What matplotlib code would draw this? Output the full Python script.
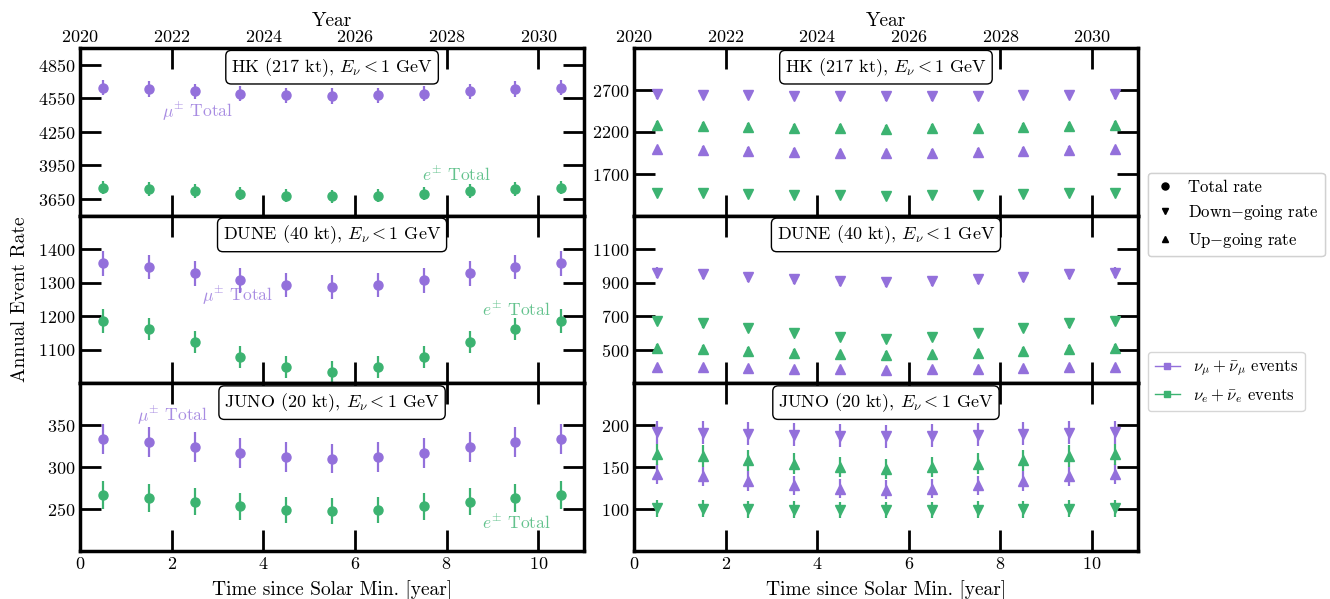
import matplotlib
matplotlib.use("Agg")
import matplotlib.pyplot as plt
from matplotlib.lines import Line2D
import numpy as np

plt.rcParams["font.family"] = "serif"
plt.rcParams["font.serif"] = ["cmr10"]
plt.rcParams["mathtext.fontset"] = "cm"
plt.rcParams["axes.formatter.use_mathtext"] = True

purple = "#9370DB"
green = "#3CB371"

t = [0.5, 1.5, 2.5, 3.5, 4.5, 5.5, 6.5, 7.5, 8.5, 9.5, 10.5]

# HK (217 kt)
hk_mu_total = [4644, 4632, 4612, 4591, 4576, 4570, 4576, 4591, 4612, 4632, 4644]
hk_e_total = [3751, 3739, 3718, 3697, 3679, 3673, 3679, 3697, 3718, 3739, 3751]
hk_mu_down = [2648, 2644, 2637, 2630, 2624, 2621, 2624, 2630, 2637, 2644, 2648]
hk_mu_up = [1989, 1981, 1969, 1957, 1945, 1942, 1945, 1957, 1969, 1981, 1989]
hk_e_down = [1471, 1467, 1458, 1449, 1441, 1438, 1441, 1449, 1458, 1467, 1471]
hk_e_up = [2280, 2272, 2262, 2250, 2240, 2236, 2240, 2250, 2262, 2272, 2280]

# DUNE (40 kt)
dune_mu_total = [1358, 1347, 1328, 1307, 1292, 1286, 1292, 1307, 1328, 1347, 1358]
dune_e_total = [1186, 1162, 1123, 1080, 1048, 1035, 1048, 1080, 1123, 1162, 1186]
dune_mu_down = [960, 951, 936, 921, 908, 906, 908, 921, 936, 951, 960]
dune_mu_up = [398, 396, 392, 386, 384, 380, 384, 386, 392, 396, 398]
dune_e_down = [674, 658, 630, 598, 574, 564, 574, 598, 630, 658, 674]
dune_e_up = [510, 504, 492, 482, 474, 470, 474, 482, 492, 504, 510]

# JUNO (20 kt)
juno_mu_total = [333.7, 330.0, 324.0, 317.4, 312.2, 310.3, 312.2, 317.4, 324.0, 330.0, 333.7]
juno_e_total = [266.7, 263.4, 258.7, 253.2, 249.2, 247.6, 249.2, 253.2, 258.7, 263.4, 266.7]
juno_mu_down = [191.7, 191.0, 190.2, 189.0, 187.8, 187.0, 187.8, 189.0, 190.2, 191.0, 191.7]
juno_mu_up = [142.0, 139.0, 133.8, 128.4, 124.4, 123.3, 124.4, 128.4, 133.8, 139.0, 142.0]
juno_e_down = [101.0, 100.5, 100.0, 99.5, 99.0, 98.8, 99.0, 99.5, 100.0, 100.5, 101.0]
juno_e_up = [165.4, 163.4, 158.3, 154.3, 150.4, 147.6, 150.4, 154.3, 158.3, 163.4, 165.4]

titles = ["HK (217 kt), $E_\\nu < 1$ GeV", "DUNE (40 kt), $E_\\nu < 1$ GeV", "JUNO (20 kt), $E_\\nu < 1$ GeV"]
left_ylims = [(3500, 5000), (1000, 1500), (200, 400)]
left_yticks = [[3650, 3950, 4250, 4550, 4850], [1100, 1200, 1300, 1400], [250, 300, 350]]
right_ylims = [(1200, 3200), (300, 1300), (50, 250)]
right_yticks = [[1700, 2200, 2700], [500, 700, 900, 1100], [100, 150, 200]]
# label positions (x, y) for mu and e text
mu_label_pos = [(1.79, 4428), (2.67, 1261), (1.24, 362)]
e_label_pos = [(7.46, 3871), (8.78, 1219), (8.78, 234.5)]

totals = [(hk_mu_total, hk_e_total), (dune_mu_total, dune_e_total), (juno_mu_total, juno_e_total)]
splits = [(hk_mu_down, hk_mu_up, hk_e_down, hk_e_up),
          (dune_mu_down, dune_mu_up, dune_e_down, dune_e_up),
          (juno_mu_down, juno_mu_up, juno_e_down, juno_e_up)]


def points(ax, y, marker, color):
    y = np.array(y)
    ax.errorbar(t, y, yerr=np.sqrt(y), fmt=marker, color=color, ms=6.5, elinewidth=1.6, capsize=0)


def style(ax, ylim, yticks, title):
    ax.set_xlim(0, 11)
    ax.set_ylim(*ylim)
    ax.set_yticks(yticks)
    ax.set_xticks([0, 2, 4, 6, 8, 10])
    ax.tick_params(direction="in", length=15, width=2, labelsize=13, top=True, right=True)
    for s in ax.spines.values():
        s.set_linewidth(2.5)
    ax.text(0.5, 0.885, title, transform=ax.transAxes, ha="center", va="center", fontsize=13,
            bbox=dict(boxstyle="round,pad=0.3", fc="white", ec="black"))


def main():
    fig, axes = plt.subplots(3, 2, figsize=(13.3, 5.99), dpi=100)
    fig.subplots_adjust(left=0.0602, right=0.8556, top=0.92, bottom=0.08, hspace=0, wspace=0.099)

    for i in range(3):
        axl = axes[i, 0]
        axr = axes[i, 1]
        mu, e = totals[i]
        points(axl, mu, "o", purple)
        points(axl, e, "o", green)
        mu_d, mu_u, e_d, e_u = splits[i]
        points(axr, mu_d, "v", purple)
        points(axr, mu_u, "^", purple)
        points(axr, e_d, "v", green)
        points(axr, e_u, "^", green)
        style(axl, left_ylims[i], left_yticks[i], titles[i])
        style(axr, right_ylims[i], right_yticks[i], titles[i])
        axl.text(*mu_label_pos[i], "$\\mu^{\\pm}$ Total", color=purple, alpha=0.8, fontsize=12.5, va="center")
        axl.text(*e_label_pos[i], "$e^{\\pm}$ Total", color=green, alpha=0.8, fontsize=12.5, va="center")
        if i < 2:
            axl.tick_params(labelbottom=False)
            axr.tick_params(labelbottom=False)
        else:
            axl.set_xlabel("Time since Solar Min. [year]", fontsize=14, labelpad=6)
            axr.set_xlabel("Time since Solar Min. [year]", fontsize=14, labelpad=6)

    for ax in axes[0]:
        ax.tick_params(top=False)
        sec = ax.secondary_xaxis("top", functions=(lambda x: x + 2020, lambda y: y - 2020))
        sec.set_xticks([2020, 2022, 2024, 2026, 2028, 2030])
        sec.tick_params(direction="in", length=15, width=2, labelsize=13, pad=2)
        sec.set_xlabel("Year", fontsize=14, labelpad=2)

    axes[1, 0].set_ylabel("Annual Event Rate", fontsize=14, labelpad=6)

    h1 = [Line2D([], [], marker="o", color="k", ls="none", ms=5),
          Line2D([], [], marker="v", color="k", ls="none", ms=5),
          Line2D([], [], marker="^", color="k", ls="none", ms=5)]
    leg1 = fig.legend(h1, ["Total rate", "Down$-$going rate", "Up$-$going rate"],
                      loc="upper left", bbox_to_anchor=(1148 / 1330, 1 - 173 / 599),
                      borderaxespad=0, fontsize=12, handlelength=1.2)
    h2 = [Line2D([], [], marker="s", color=purple, ms=4, lw=1),
          Line2D([], [], marker="s", color=green, ms=4, lw=1)]
    fig.legend(h2, ["$\\nu_\\mu + \\bar{\\nu}_\\mu$ events", "$\\nu_e + \\bar{\\nu}_e$ events"],
               loc="upper left", bbox_to_anchor=(1148 / 1330, 1 - 352 / 599),
               borderaxespad=0, fontsize=12, handlelength=1.5)
    fig.add_artist(leg1)

    plt.savefig("out.png")


if __name__ == '__main__':
    main()
